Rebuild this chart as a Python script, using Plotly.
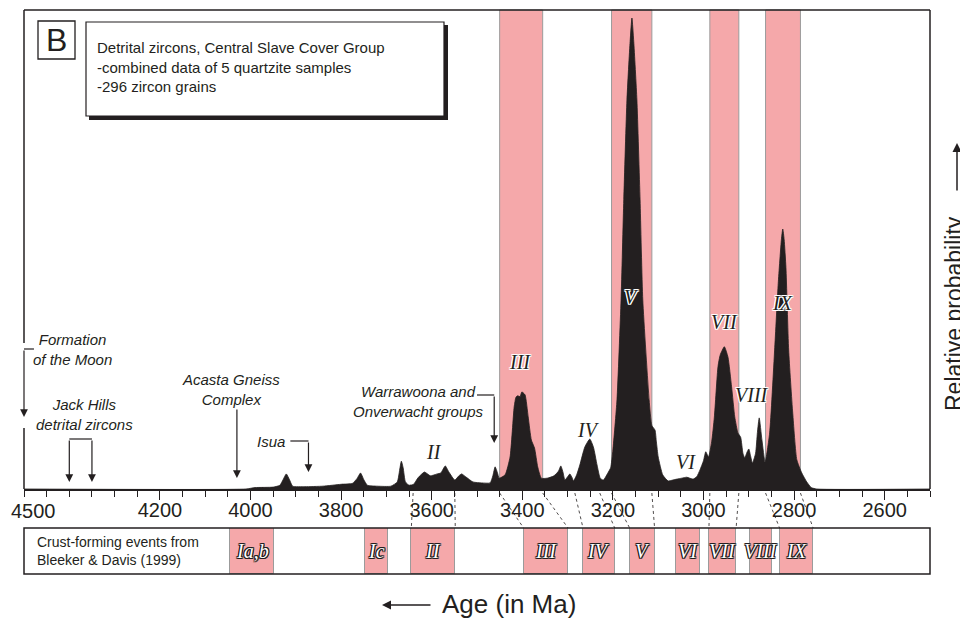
import plotly.graph_objects as go

# ---------------- data ----------------
ages = [4500, 4010, 3990, 3950, 3935, 3928, 3921, 3914, 3907, 3880, 3840, 3800, 3775, 3765, 3757,
        3750, 3742, 3720, 3690, 3676, 3670, 3667, 3663, 3658, 3650, 3640, 3630, 3616, 3603, 3588,
        3580, 3570, 3562, 3549, 3540, 3534, 3525, 3509, 3490, 3471, 3465, 3460, 3455, 3451, 3438,
        3427, 3418, 3414, 3410, 3405, 3401, 3394, 3387, 3380, 3373, 3366, 3358, 3345, 3330, 3320,
        3315, 3310, 3306, 3300, 3295, 3290, 3287, 3280, 3273, 3262, 3251, 3243, 3235, 3228, 3221,
        3210, 3205, 3200, 3191, 3182, 3176, 3169, 3162, 3158, 3154, 3147, 3140, 3134, 3120, 3114,
        3107, 3104, 3100, 3090, 3078, 3068, 3059, 3048, 3037, 3023, 3015, 3008, 3000, 2995, 2989,
        2982, 2976, 2968, 2963, 2954, 2946, 2938, 2931, 2924, 2918, 2913, 2909, 2904, 2900, 2896,
        2892, 2885, 2881, 2877, 2871, 2864, 2854, 2843, 2835, 2828, 2825, 2822, 2818, 2812, 2803,
        2794, 2783, 2772, 2762, 2750, 2500]
prob = [0, 0, 0.3, 0.4, 0.8, 2.0, 3.2, 2.0, 0.6, 0.5, 0.6, 1.0, 1.2, 2.2, 3.4,
        2.0, 0.8, 0.6, 0.6, 1.5, 4.5, 5.9, 4.5, 1.5, 0.8, 1.0, 2.4, 3.6, 2.8, 3.2,
        3.4, 4.9, 3.6, 1.9, 2.8, 3.2, 2.6, 1.5, 1.3, 1.3, 2.8, 4.7, 3.5, 2.3, 3.0,
        6.8, 17.4, 19.5, 19.8, 19.6, 20.6, 20.0, 15.3, 10.4, 8.7, 4.7, 2.3, 2.3, 2.8, 3.8,
        4.9, 3.5, 1.9, 2.6, 3.2, 2.4, 1.7, 3.0, 5.1, 8.9, 10.6, 8.9, 5.1, 2.3, 1.9,
        3.6, 4.5, 8.3, 18.9, 40.1, 61.4, 82.6, 95.0, 100.0, 95.0, 82.6, 61.4, 40.1, 18.9, 13.5,
        12.5, 10.0, 6.8, 3.0, 1.7, 1.9, 2.1, 2.3, 2.5, 2.1, 2.6, 4.0, 6.0, 7.9, 6.8,
        10.0, 15.3, 26.0, 28.5, 30.2, 28.0, 21.7, 15.3, 11.9, 11.0, 7.6, 6.6, 7.8, 8.5, 7.0,
        5.5, 7.6, 12.0, 15.1, 10.4, 5.7, 11.9, 29.5, 43.7, 53.0, 55.2, 53.0, 47.0, 29.5, 16.1,
        6.2, 3.4, 1.5, 0.3, 0, 0]

band_labels = ["III", "V", "VII", "IX"]
band_start = [3450, 3203, 2986, 2863]
band_end = [3355, 3114, 2922, 2786]

event_labels = ["Ia,b", "Ic", "II", "III", "IV", "V", "VI", "VII", "VIII", "IX"]
event_start = [4045, 3748, 3645, 3397, 3266, 3163, 3060, 2988, 2898, 2832]
event_end = [3948, 3697, 3548, 3299, 3196, 3108, 3008, 2928, 2848, 2758]

conn_top = [3641, 3549, 3450, 3355, 3284, 3229, 3203, 3114, 2986, 2922, 2863, 2786]
conn_bottom = [3645, 3548, 3397, 3299, 3266, 3196, 3163, 3108, 2988, 2928, 2832, 2758]

peak_labels = ["II", "III", "IV", "V", "VI", "VII", "VIII", "IX"]
peak_label_age = [3594, 3405, 3253, 3158, 3039, 2953, 2893, 2825]
peak_label_val = [7.9, 27.0, 12.5, 40.8, 5.7, 35.5, 20.0, 39.5]

tick_vals = [4500, 4200, 4000, 3800, 3600, 3400, 3200, 3000, 2800, 2600]
tick_text = [str(v) for v in tick_vals]

moon_age = 4500
jack_hills_ages = [4400, 4350]
acasta_age = 4030
isua_age = 3872
warrawoona_age = 3462

# ---------------- style ----------------
INK = "#231f20"
PINK = "#f5a8aa"
EDGE = "#9b9b9b"
SANS = "Liberation Sans, Arial, Helvetica, sans-serif"
SERIF = "Liberation Serif, Times New Roman, serif"
PAGE = 8  # default page margin of the html body
W, H = 968 - PAGE, 619 - PAGE
ML, MR, MT, MB = 24 - PAGE, 38, 10 - PAGE, 45
PW, PH = W - ML - MR, H - MT - MB


def pxx(x):
    return (x - PAGE - ML) / PW


def pxy(y):
    return (H - MB - (y - PAGE)) / PH


main_bottom = pxy(489)
strip_top = pxy(528)
YMAX = 101.7

# the edge label (4500) is drawn separately, left-anchored so it stays inside the page
shown_ticks = [""] + tick_text[1:]

fig = go.Figure()

fig.add_trace(go.Scatter(
    x=ages, y=prob, mode="lines", fill="tozeroy", fillcolor=INK,
    line=dict(color=INK, width=0.8, shape="spline", smoothing=0.5),
    hoverinfo="skip", showlegend=False, xaxis="x", yaxis="y"))

fig.add_trace(go.Bar(
    x=[(s + e) / 2 for s, e in zip(event_start, event_end)],
    y=[1] * len(event_start),
    width=[s - e for s, e in zip(event_start, event_end)],
    base=0, marker=dict(color=PINK, line=dict(color=EDGE, width=1)),
    hoverinfo="skip", showlegend=False, xaxis="x2", yaxis="y2"))

shapes = []
for s, e in zip(band_start, band_end):
    shapes.append(dict(type="rect", xref="x", yref="y domain", x0=s, x1=e, y0=0, y1=1,
                       fillcolor=PINK, line=dict(color=EDGE, width=1), layer="below"))

# frame of the main panel
fl = dict(color=INK, width=1.5)
shapes += [
    dict(type="line", xref="x domain", yref="y domain", x0=0, x1=1, y0=1, y1=1, line=fl),
    dict(type="line", xref="x domain", yref="y domain", x0=1, x1=1, y0=0, y1=1, line=fl),
    dict(type="line", xref="x domain", yref="y domain", x0=0, x1=0, y0=1, y1=(489 - 343) / 479, line=fl),
    dict(type="line", xref="x domain", yref="y domain", x0=0, x1=0, y0=(489 - 428) / 479, y1=0, line=fl),
]

# connectors
for t, b in zip(conn_top, conn_bottom):
    shapes.append(dict(type="line", xref="x", yref="paper", x0=t, x1=b, y0=pxy(493), y1=strip_top,
                       line=dict(color=INK, width=0.8, dash="dot")))

# strip outline
shapes.append(dict(type="rect", xref="x2 domain", yref="y2 domain", x0=0, x1=1, y0=0, y1=1,
                   line=dict(color=INK, width=1.5)))

# bracket lines for event arrows
bl = dict(color=INK, width=1.2)
v = lambda yp: (489 - yp) / 4.71
shapes += [
    dict(type="line", xref="x", yref="y", x0=moon_age, x1=moon_age - 22, y0=v(349), y1=v(349), line=bl),
    dict(type="line", xref="x", yref="y", x0=jack_hills_ages[0], x1=jack_hills_ages[1], y0=v(439), y1=v(439), line=bl),
    dict(type="line", xref="x", yref="y", x0=isua_age + 40, x1=isua_age, y0=v(441), y1=v(441), line=bl),
    dict(type="line", xref="x", yref="y", x0=warrawoona_age + 38, x1=warrawoona_age, y0=v(395), y1=v(395), line=bl),
]

# top-left boxes
shapes += [
    dict(type="rect", xref="paper", yref="paper", x0=pxx(38), x1=pxx(75), y0=pxy(21), y1=pxy(59),
         fillcolor="white", line=dict(color=INK, width=1.3)),
    dict(type="rect", xref="paper", yref="paper", x0=pxx(89), x1=pxx(448), y0=pxy(25), y1=pxy(120),
         fillcolor=INK, line=dict(width=0)),
    dict(type="rect", xref="paper", yref="paper", x0=pxx(86), x1=pxx(444), y0=pxy(22), y1=pxy(116),
         fillcolor="white", line=dict(color=INK, width=1.2)),
]

ann = []
halo_w = "1px 0 0 #fff, -1px 0 0 #fff, 0 1px 0 #fff, 0 -1px 0 #fff, 1px 1px 0 #fff, -1px -1px 0 #fff, 1px -1px 0 #fff, -1px 1px 0 #fff"
halo_k = halo_w.replace("#fff", INK)

C = dict(xanchor="center", yanchor="middle")

for lab, a, val in zip(peak_labels, peak_label_age, peak_label_val):
    ann.append(dict(C, x=a, y=val, xref="x", yref="y", text=lab, showarrow=False,
                    font=dict(family=SERIF, size=20, color=INK, style="italic", shadow=halo_w)))

for lab, s, e in zip(event_labels, event_start, event_end):
    ann.append(dict(C, x=(s + e) / 2, y=0.5, xref="x2", yref="y2", text=lab, showarrow=False,
                    font=dict(family=SERIF, size=20, color="white", style="italic", shadow=halo_k)))

it = dict(family=SANS, size=15, color=INK, style="italic")
arrow = dict(showarrow=True, arrowhead=2, arrowsize=1.3, arrowwidth=1.2, arrowcolor=INK,
             axref="x", ayref="y", text="", standoff=0)

ann += [
    dict(x=tick_vals[0], y=pxy(511), xref="x", yref="paper", xanchor="left", yanchor="middle",
         xshift=-15, text=tick_text[0], showarrow=False, font=dict(family=SANS, size=20, color=INK)),
    dict(C, x=4392, y=v(349), xref="x", yref="y", text="Formation<br>of the Moon", showarrow=False, font=it),
    dict(arrow, x=moon_age, y=v(417), ax=moon_age, ay=v(349), xref="x", yref="y"),
    dict(C, x=4366, y=v(414.5), xref="x", yref="y", text="Jack Hills<br>detrital zircons", showarrow=False, font=it),
    dict(C, x=4044, y=v(389.5), xref="x", yref="y", text="Acasta Gneiss<br>Complex", showarrow=False, font=it),
    dict(arrow, x=acasta_age, y=v(478), ax=acasta_age, ay=v(408), xref="x", yref="y"),
    dict(C, x=3954, y=v(441), xref="x", yref="y", text="Isua", showarrow=False, font=it),
    dict(arrow, x=isua_age, y=v(472), ax=isua_age, ay=v(441), xref="x", yref="y"),
    dict(C, x=3630, y=v(401.5), xref="x", yref="y", text="Warrawoona and<br>Onverwacht groups", showarrow=False, font=it),
    dict(arrow, x=warrawoona_age, y=v(443), ax=warrawoona_age, ay=v(395), xref="x", yref="y"),
]
for a in jack_hills_ages:
    ann.append(dict(arrow, x=a, y=v(482), ax=a, ay=v(439), xref="x", yref="y"))

ann += [
    dict(C, x=pxx(56.5), y=pxy(40), xref="paper", yref="paper", text="B", showarrow=False,
         font=dict(family=SANS, size=32, color=INK)),
    dict(x=pxx(95), y=pxy(67), xref="paper", yref="paper", xanchor="left", yanchor="middle", align="left",
         text="Detrital zircons, Central Slave Cover Group<br>-combined data of 5 quartzite samples<br>-296 zircon grains",
         showarrow=False, font=dict(family=SANS, size=15, color=INK)),
    dict(x=pxx(35), y=0.5, xref="paper", yref="y2 domain", xanchor="left", yanchor="middle", align="left",
         text="Crust-forming events from<br>Bleeker & Davis (1999)", showarrow=False,
         font=dict(family=SANS, size=14, color=INK)),
    dict(x=pxx(440), y=pxy(604), xref="paper", yref="paper", xanchor="left", yanchor="middle",
         text="Age (in Ma)", showarrow=False, font=dict(family=SANS, size=26, color=INK)),
    dict(x=pxx(382), y=pxy(605), xref="paper", yref="paper", text="", showarrow=True, arrowhead=2,
         arrowsize=1.2, arrowwidth=1.5, arrowcolor=INK, ax=50, ay=0, standoff=0),
    dict(C, x=pxx(954), y=pxy(313), xref="paper", yref="paper", text="Relative probability", textangle=-90,
         showarrow=False, font=dict(family=SANS, size=23, color=INK)),
    dict(x=pxx(957), y=pxy(143), xref="paper", yref="paper", text="", showarrow=True, arrowhead=2,
         arrowsize=1.2, arrowwidth=1.5, arrowcolor=INK, ax=0, ay=49, standoff=0),
]

fig.update_layout(
    template="none",
    width=W, height=H, margin=dict(l=ML, r=MR, t=MT, b=MB, pad=0), autosize=False,
    paper_bgcolor="white", plot_bgcolor="rgba(0,0,0,0)",
    showlegend=False, shapes=shapes, annotations=ann, bargap=0,
    xaxis=dict(range=[4500, 2500], domain=[0, 1], anchor="y", showgrid=False, zeroline=False,
               automargin=False, ticklabelstandoff=-7,
               showline=True, linewidth=2, linecolor=INK, ticks="outside", ticklen=9, tickwidth=1.3,
               tickcolor=INK, tickmode="array", tickvals=tick_vals, ticktext=shown_ticks,
               tickfont=dict(family=SANS, size=20, color=INK),
               minor=dict(tickmode="array", tickvals=list(range(2500, 4501, 50)), ticks="outside",
                          ticklen=6, tickwidth=1.3, tickcolor=INK, showgrid=False)),
    yaxis=dict(range=[0, YMAX], domain=[main_bottom, 1], anchor="x", visible=False, automargin=False),
    xaxis2=dict(range=[4500, 2500], domain=[0, 1], anchor="y2", matches="x", visible=False, automargin=False),
    yaxis2=dict(range=[0, 1], domain=[0, strip_top], anchor="x2", visible=False, automargin=False),
)

fig.write_html("out.html")
